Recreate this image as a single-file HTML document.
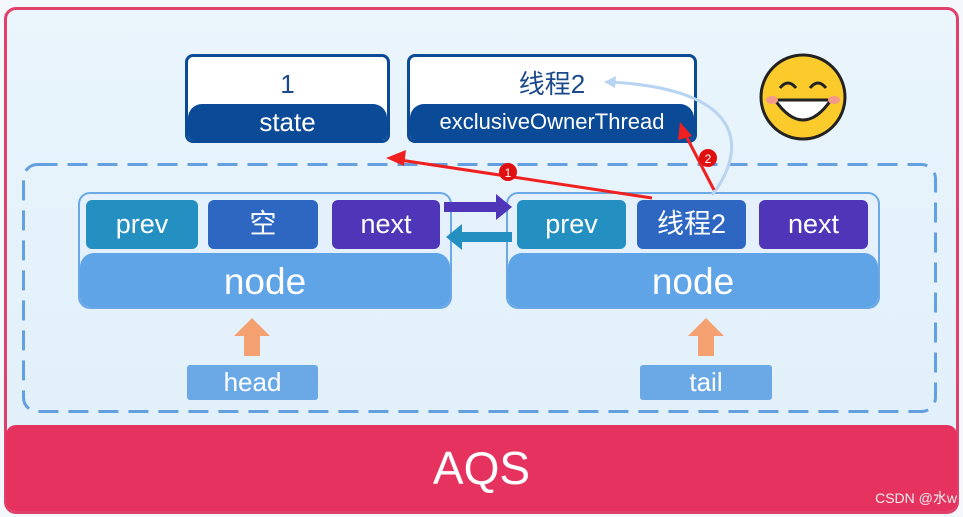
<!DOCTYPE html>
<html><head><meta charset="utf-8"><style>
*{margin:0;padding:0;box-sizing:border-box}
body{width:963px;height:517px;background:#f4f8fb;position:relative;overflow:hidden;font-family:"Liberation Sans","Noto Sans CJK SC",sans-serif}
.a{position:absolute}
.frame{left:4px;top:7px;width:955px;height:507px;border:3px solid #e0406a;border-radius:12px;background:linear-gradient(#eaf5fc,#e0effa)}
.aqs{left:6px;top:425px;width:951px;height:86px;background:#e5325f;border-radius:10px;color:#fff;font-size:46px;text-align:center;line-height:86px}
.box{border:3px solid #0b4a96;border-radius:8px;background:#fff;overflow:hidden}
.box .t{height:48px;text-align:center;font-size:26px;color:#1b4a8a;line-height:54px}
.box .b{position:absolute;left:0;right:0;bottom:0;height:36px;background:#0b4a96;border-radius:14px 14px 0 0;color:#fff;text-align:center;font-size:26px;line-height:36px}
.node{border:2px solid #6aa8e6;border-radius:12px;background:#e4f0fb;overflow:hidden}
.node .b{position:absolute;left:0;right:0;bottom:0;height:54px;background:#60a4e8;border-radius:14px 14px 0 0;color:#fff;text-align:center;font-size:37px;line-height:58px}
.c{height:49px;border-radius:6px;color:#fff;font-size:27px;text-align:center;line-height:48px;top:200px}
.lbl{background:#6aa8e6;color:#fff;font-size:26px;text-align:center;line-height:35px;height:35px;border-radius:3px;top:365px}
</style></head><body>
<div class="a frame"></div>
<svg class="a" style="left:0;top:0" width="963" height="517"><rect x="23.5" y="164.5" width="912" height="247" rx="14" fill="none" stroke="#64a0e0" stroke-width="3" stroke-dasharray="20 10"/></svg>
<div class="a aqs">AQS</div>
<div class="a" style="right:6px;top:488px;color:#eee;font-size:14px">CSDN @水w</div>

<div class="a box" style="left:185px;top:54px;width:205px;height:89px"><div class="t">1</div><div class="b">state</div></div>
<div class="a box" style="left:407px;top:54px;width:290px;height:89px"><div class="t">线程2</div><div class="b" style="font-size:22px">exclusiveOwnerThread</div></div>

<div class="a node" style="left:78px;top:192px;width:374px;height:117px"><div class="b">node</div></div>
<div class="a node" style="left:506px;top:192px;width:374px;height:117px"><div class="b">node</div></div>

<div class="a c" style="left:86px;width:112px;background:#2490c2">prev</div>
<div class="a c" style="left:208px;width:110px;background:#2d67c2">空</div>
<div class="a c" style="left:332px;width:108px;background:#4f35b8">next</div>
<div class="a c" style="left:517px;width:109px;background:#2490c2">prev</div>
<div class="a c" style="left:637px;width:109px;background:#2d67c2">线程2</div>
<div class="a c" style="left:759px;width:109px;background:#4f35b8">next</div>

<div class="a lbl" style="left:187px;width:131px">head</div>
<div class="a lbl" style="left:640px;width:132px">tail</div>

<svg class="a" style="left:0;top:0" width="963" height="517">
<polygon points="444,202 496,202 496,194 512,207 496,220 496,212 444,212" fill="#4f35b8"/>
<polygon points="512,232 462,232 462,224 446,237 462,250 462,242 512,242" fill="#2490c2"/>
<polygon points="244,356 244,336 234,336 252,318 270,336 260,336 260,356" fill="#f5a070"/>
<polygon points="698,356 698,336 688,336 706,318 724,336 714,336 714,356" fill="#f5a070"/>
<path d="M712,195 C740,160 760,90 610,82" stroke="#b8d4f0" stroke-width="3" fill="none"/>
<polygon points="604,82 616,76 615,88" fill="#b8d4f0"/>
<line x1="652" y1="198" x2="400" y2="160" stroke="#f02020" stroke-width="3"/>
<polygon points="386,158 406,150 404,166" fill="#f02020"/>
<line x1="714" y1="190" x2="684" y2="132" stroke="#f02020" stroke-width="3"/>
<polygon points="680,122 692,136 678,140" fill="#f02020"/>
<circle cx="508" cy="172" r="9" fill="#e01010"/><text x="508" y="177" font-size="12" fill="#fff" text-anchor="middle">1</text>
<circle cx="708" cy="158" r="9" fill="#e01010"/><text x="708" y="163" font-size="12" fill="#fff" text-anchor="middle">2</text>
<circle cx="803" cy="97" r="42" fill="#fbcb2c" stroke="#222" stroke-width="3"/>
<path d="M780,88 q8,-10 16,0 M810,88 q8,-10 16,0" stroke="#222" stroke-width="3" fill="none"/>
<path d="M775,100 Q803,140 831,100 Z" fill="#fff" stroke="#222" stroke-width="3"/>
<ellipse cx="772" cy="100" rx="6" ry="4" fill="#f59a8a"/><ellipse cx="834" cy="100" rx="6" ry="4" fill="#f59a8a"/>
</svg>
</body></html>
